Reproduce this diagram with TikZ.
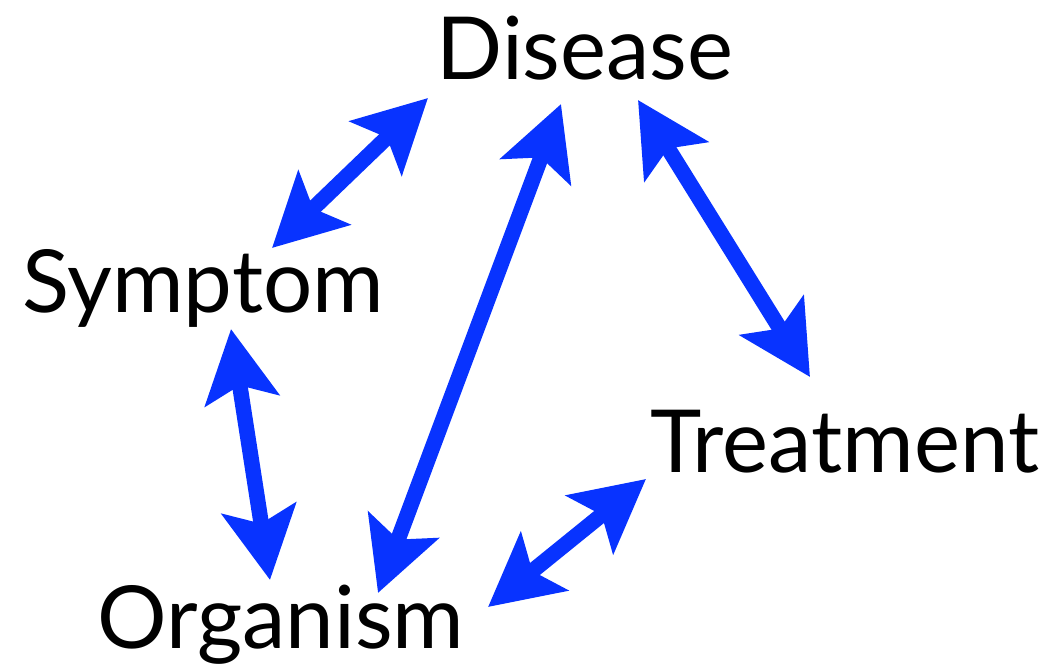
\documentclass[tikz,border=0pt]{standalone}
\usepackage{fontspec}
\setmainfont{Lato}
\usepackage{xcolor}
\definecolor{linkblue}{RGB}{8, 51, 255}
\usepackage{tikz}
\usetikzlibrary{arrows.meta, positioning}

\begin{document}
\begin{tikzpicture}[
    x=1pt, y=-1pt,
    termnode/.style={
        inner sep=0pt, anchor=base, text=black, font=\fontsize{87}{100}\selectfont
    },
    linkarrow/.style={
        {Stealth[length=72pt, width=74pt, inset=15pt]}-{Stealth[length=72pt, width=74pt, inset=15pt]},
        line width=15.5pt, color=linkblue
    }
]
\useasboundingbox (0,0) rectangle (1052,669);

% Nodes
\node[termnode] (disease) at (585,80) {Disease};
\node[termnode] (symptom) at (203,312) {Symptom};
\node[termnode] (treatment) at (845,472) {Treatment};
\node[termnode] (organism) at (281,648) {Organism};

% Connections
\draw[linkarrow] ([shift={(-157,18)}]disease.base) -- ([shift={(69,-64)}]symptom.base);
\draw[linkarrow] ([shift={(-24,24)}]disease.base) -- ([shift={(97,-55)}]organism.base);
\draw[linkarrow] ([shift={(53,20)}]disease.base) -- ([shift={(-35,-95)}]treatment.base);
\draw[linkarrow] ([shift={(28,17)}]symptom.base) -- ([shift={(-11,-68)}]organism.base);
\draw[linkarrow] ([shift={(207,-41)}]organism.base) -- ([shift={(-199,7)}]treatment.base);

\end{tikzpicture}
\end{document}
